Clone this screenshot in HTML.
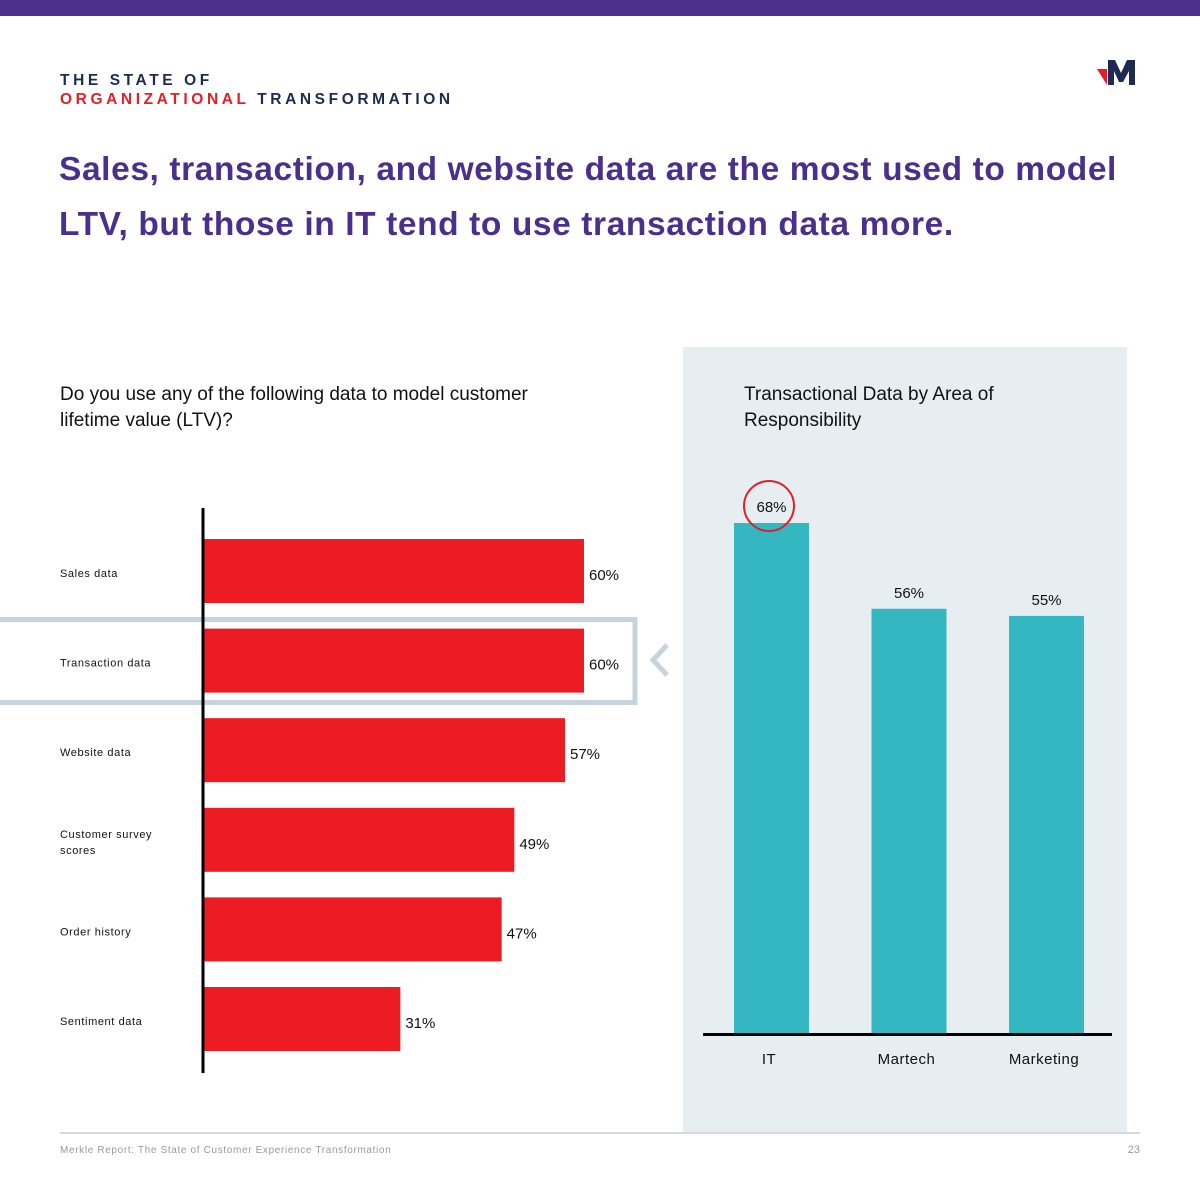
<!DOCTYPE html>
<html><head><meta charset="utf-8"><style>
body{margin:0;width:1200px;height:1200px;background:#fff;position:relative;overflow:hidden;font-family:"Liberation Sans",sans-serif}
.a{position:absolute}
</style></head><body>
<div class="a" style="left:0;top:0;width:1200px;height:16px;background:#4a2f8c"></div>
<div class="a" style="left:60px;top:71px;font-weight:bold;font-size:15.5px;letter-spacing:3.6px;line-height:19px;color:#1e2a52">THE STATE OF<br><span style="color:#e31e26">ORGANIZATIONAL</span> TRANSFORMATION</div>
<svg class="a" style="left:1095px;top:60px" width="46" height="26"><polygon points="2,9 12,9 12,25" fill="#e31e26"/><polygon points="13,0 20,0 26,13 32,0 40,0 40,25 34,25 34,11 28,22 24,22 19,11 19,25 13,25" fill="#1e2a52"/></svg>
<div class="a" style="left:59px;top:142px;width:1080px;font-weight:bold;font-size:33.5px;letter-spacing:0.6px;line-height:55px;color:#4a2f8c">Sales, transaction, and website data are the most used to model LTV, but those in IT tend to use transaction data more.</div>
<div class="a" style="left:60px;top:382px;font-size:19px;line-height:26px;color:#111">Do you use any of the following data to model customer<br>lifetime value (LTV)?</div>
<div class="a" style="left:683px;top:347px;width:444px;height:785px;background:#e6eef1"></div>
<div class="a" style="left:744px;top:382px;font-size:19px;line-height:26px;color:#111">Transactional Data by Area of<br>Responsibility</div>
<svg class="a" id="chart" style="left:0;top:0" width="1200" height="1200"></svg>
<div class="a" style="left:60px;top:1132px;width:1080px;height:2px;background:#d8d8d8"></div>
<div class="a" style="left:60px;top:1145px;font-size:10px;letter-spacing:0.65px;color:#999">Merkle Report: The State of Customer Experience Transformation</div>
<div class="a" style="left:1110px;top:1144px;width:30px;text-align:right;font-size:11px;color:#999">23</div>
<script>
const categories=["Sales data","Transaction data","Website data","Customer survey scores","Order history","Sentiment data"];
const values=[60,60,57,49,47,31];
const areas=["IT","Martech","Marketing"];
const areaValues=[68,56,55];
const NS="http://www.w3.org/2000/svg";
const svg=document.getElementById('chart');
function mk(t,at,txt){const e=document.createElementNS(NS,t);for(const k in at)e.setAttribute(k,at[k]);if(txt!=null)e.textContent=txt;svg.appendChild(e);return e;}
const xs=v=>204+v*(380/60);
const bandY=i=>539+i*89.6;
let hb=mk('rect',{x:-10,y:619.5,width:645,height:83,fill:'none',stroke:'#c6d5dd','stroke-width':5});


let ch=mk('polyline',{points:'667,645 653,660 667,675',fill:'none',stroke:'#c6d5dd','stroke-width':5});


categories.forEach((c,i)=>{
 const y=bandY(i);
 let r=mk('rect',{x:204,y:y,width:xs(values[i])-204,height:64,fill:'#ed1c24'});
 
 
 let t=mk('text',{x:xs(values[i])+5,y:y+41,'font-size':15,fill:'#111'},values[i]+'%');
 
 
 const words=c==="Customer survey scores"?["Customer survey","scores"]:[c];
 words.forEach((w,j)=>{
  let l=mk('text',{x:60,y:y+(words.length>1?30:38)+j*16,'font-size':11,'letter-spacing':0.6,fill:'#111'},w);
  
  
 });
});
let ax=mk('line',{x1:203,y1:508,x2:203,y2:1073,stroke:'#000','stroke-width':3});


const ys=v=>1034-(v+3.5)*(511/71.5);
areas.forEach((a,i)=>{
 const x=734+i*137.5;
 let r=mk('rect',{x:x,y:ys(areaValues[i]),width:75,height:1034-ys(areaValues[i]),fill:'#35b7c1'});
 
 
 let t=mk('text',{x:x+37.5,y:ys(areaValues[i])-11,'font-size':15,fill:'#111','text-anchor':'middle'},areaValues[i]+'%');
 
 
 let l=mk('text',{x:x+35,y:1064,'font-size':15,'letter-spacing':0.5,fill:'#111','text-anchor':'middle'},a);
 
 
});
let c=mk('circle',{cx:769,cy:506,r:25,fill:'none',stroke:'#e31e26','stroke-width':2});


let bl=mk('line',{x1:703,y1:1034.5,x2:1112,y2:1034.5,stroke:'#000','stroke-width':3});


</script>
</body></html>
